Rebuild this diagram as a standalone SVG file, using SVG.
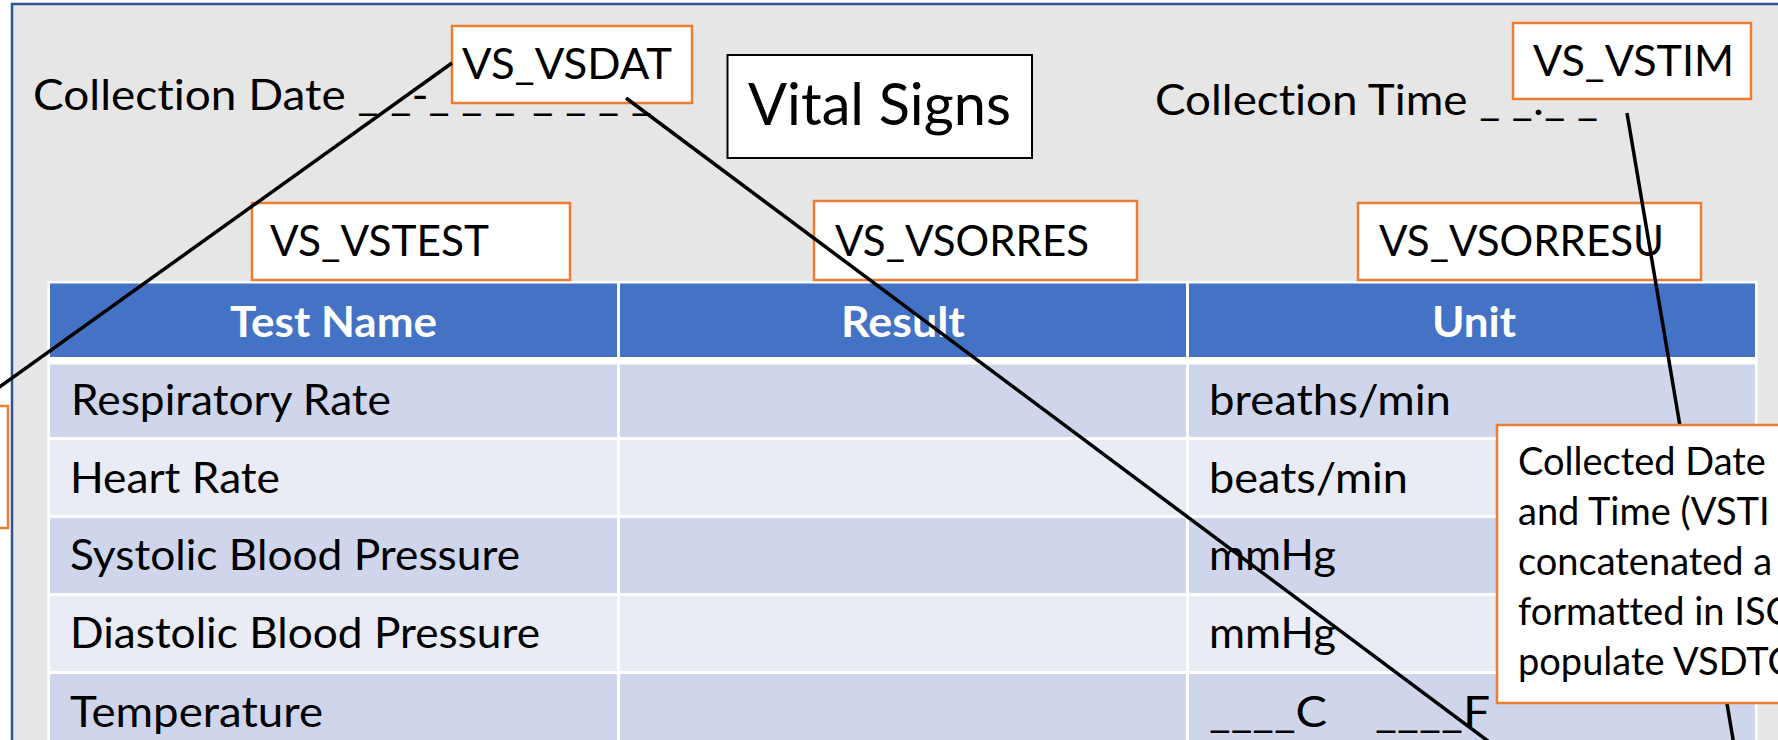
<svg xmlns="http://www.w3.org/2000/svg" width="1778" height="740" viewBox="0 0 1778 740">
<defs>
<style>
.t{font-family:Lato,"Liberation Sans",sans-serif;fill:#000;font-variant-ligatures:none}
.b{font-size:43px}
.h{font-size:42px;font-weight:bold;fill:#fff}
.c{font-size:38px}
.lbl{fill:#fff;stroke:#ed7d31;stroke-width:2.5}
.conn{stroke:#000;stroke-width:3.5;fill:none}
.hc{fill:#4472c4}
.r1{fill:#cfd5ea}
.r2{fill:#e9ebf5}
</style>
</defs>
<rect width="1778" height="740" fill="#fff"/>
<rect id="panel" x="12" y="4" width="1800" height="800" fill="#e7e6e6" stroke="#2f5597" stroke-width="2.5"/>

<g id="collection-date">
<text class="t b" x="33" y="110" textLength="619" lengthAdjust="spacingAndGlyphs">Collection Date _ _-_ _ _-_ _ _ _</text>
</g>
<g id="collection-time">
<text class="t b" x="1155" y="115" textLength="443" lengthAdjust="spacingAndGlyphs">Collection Time _ _:_ _</text>
</g>

<g id="table">
<rect x="47.5" y="281" width="1710" height="470" fill="#fff"/>
<rect class="hc" x="50" y="283.5" width="567" height="73.5"/>
<rect class="hc" x="620" y="283.5" width="566" height="73.5"/>
<rect class="hc" x="1189" y="283.5" width="566" height="73.5"/>
<rect class="r1" x="50" y="364.5" width="567" height="72.5"/>
<rect class="r1" x="620" y="364.5" width="566" height="72.5"/>
<rect class="r1" x="1189" y="364.5" width="566" height="72.5"/>
<rect class="r2" x="50" y="440" width="567" height="75"/>
<rect class="r2" x="620" y="440" width="566" height="75"/>
<rect class="r2" x="1189" y="440" width="566" height="75"/>
<rect class="r1" x="50" y="518" width="567" height="75"/>
<rect class="r1" x="620" y="518" width="566" height="75"/>
<rect class="r1" x="1189" y="518" width="566" height="75"/>
<rect class="r2" x="50" y="596" width="567" height="75"/>
<rect class="r2" x="620" y="596" width="566" height="75"/>
<rect class="r2" x="1189" y="596" width="566" height="75"/>
<rect class="r1" x="50" y="674" width="567" height="80"/>
<rect class="r1" x="620" y="674" width="566" height="80"/>
<rect class="r1" x="1189" y="674" width="566" height="80"/>
<text class="t h" x="230" y="337" textLength="207" lengthAdjust="spacingAndGlyphs">Test Name</text>
<text class="t h" x="841" y="337" textLength="124" lengthAdjust="spacingAndGlyphs">Result</text>
<text class="t h" x="1432" y="337" textLength="84" lengthAdjust="spacingAndGlyphs">Unit</text>
<text class="t b" x="71" y="415" textLength="320" lengthAdjust="spacingAndGlyphs">Respiratory Rate</text>
<text class="t b" x="70" y="493" textLength="210" lengthAdjust="spacingAndGlyphs">Heart Rate</text>
<text class="t b" x="70" y="570" textLength="450" lengthAdjust="spacingAndGlyphs">Systolic Blood Pressure</text>
<text class="t b" x="70" y="648" textLength="470" lengthAdjust="spacingAndGlyphs">Diastolic Blood Pressure</text>
<text class="t b" x="70" y="727" textLength="253" lengthAdjust="spacingAndGlyphs">Temperature</text>
<text class="t b" x="1209" y="415" textLength="242" lengthAdjust="spacingAndGlyphs">breaths/min</text>
<text class="t b" x="1209" y="493" textLength="199" lengthAdjust="spacingAndGlyphs">beats/min</text>
<text class="t b" x="1209" y="570" textLength="127" lengthAdjust="spacingAndGlyphs">mmHg</text>
<text class="t b" x="1209" y="648" textLength="127" lengthAdjust="spacingAndGlyphs">mmHg</text>
<text class="t b" y="727"><tspan x="1209" textLength="118" lengthAdjust="spacingAndGlyphs">____C</tspan><tspan x="1375" textLength="115" lengthAdjust="spacingAndGlyphs">____F</tspan></text>
</g>

<g id="vital-signs">
<rect x="727.5" y="55" width="304.5" height="103" fill="#fff" stroke="#000" stroke-width="2"/>
<text class="t" style="font-size:59px" x="748" y="125" textLength="263" lengthAdjust="spacingAndGlyphs">Vital Signs</text>
</g>

<g id="vs-vsdat">
<rect class="lbl" x="452" y="26" width="240" height="77"/>
<text class="t b" x="462" y="79" textLength="210" lengthAdjust="spacingAndGlyphs">VS_VSDAT</text>
</g>
<g id="vs-vstim">
<rect class="lbl" x="1513" y="23" width="238" height="76"/>
<text class="t b" x="1533" y="76" textLength="201" lengthAdjust="spacingAndGlyphs">VS_VSTIM</text>
</g>
<g id="vs-vstest">
<rect class="lbl" x="252" y="203" width="318" height="77"/>
<text class="t b" x="270" y="256" textLength="219" lengthAdjust="spacingAndGlyphs">VS_VSTEST</text>
</g>
<g id="vs-vsorres">
<rect class="lbl" x="814" y="201" width="323" height="79"/>
<text class="t b" x="835" y="256" textLength="254" lengthAdjust="spacingAndGlyphs">VS_VSORRES</text>
</g>
<g id="vs-vsorresu">
<rect class="lbl" x="1358" y="203" width="343" height="77"/>
<text class="t b" x="1379" y="256" textLength="285" lengthAdjust="spacingAndGlyphs">VS_VSORRESU</text>
</g>
<g id="left-box">
<rect class="lbl" x="-50" y="406" width="58" height="122"/>
</g>

<g id="connectors">
<path class="conn" d="M452,63 L-20,401"/>
<path class="conn" d="M626,98 L1500,750"/>
<path class="conn" d="M1627,113 L1734,745"/>
</g>

<g id="collected-note">
<rect class="lbl" x="1497" y="425" width="400" height="278"/>
<text class="t c" x="1518" y="475">Collected Date</text>
<text class="t c" x="1518" y="525">and Time (VSTI</text>
<text class="t c" x="1518" y="575">concatenated a</text>
<text class="t c" x="1518" y="625">formatted in ISO</text>
<text class="t c" x="1518" y="675">populate VSDTC</text>
</g>
</svg>
